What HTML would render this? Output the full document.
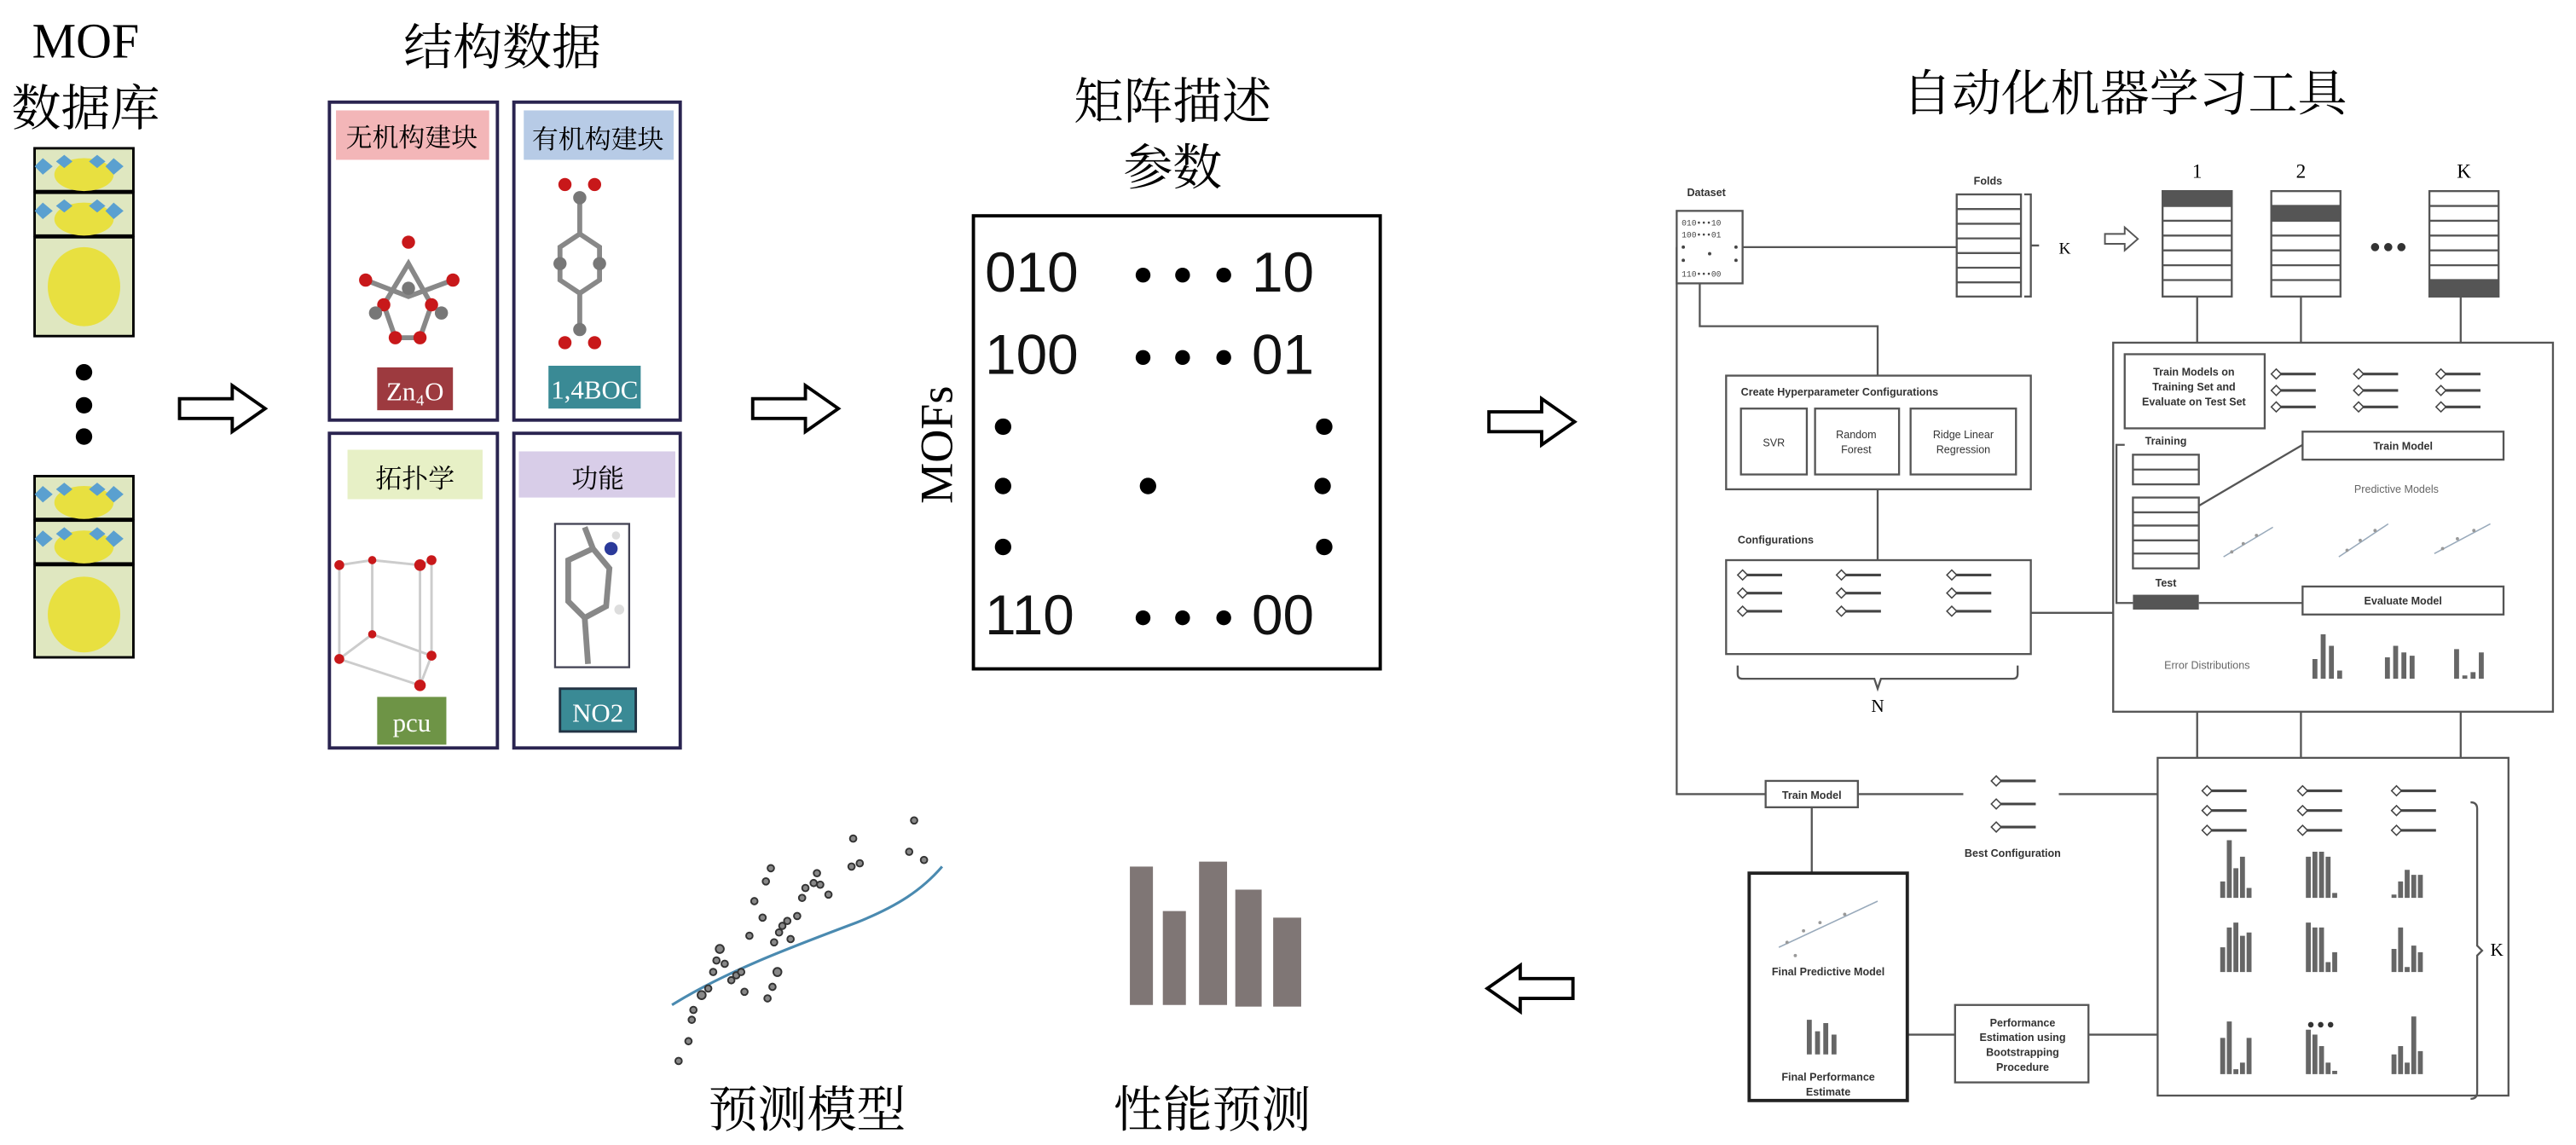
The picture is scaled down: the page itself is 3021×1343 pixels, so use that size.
<!DOCTYPE html>
<html><head><meta charset="utf-8"><style>
html,body{margin:0;padding:0;background:#fff}
svg{display:block}
.cn{font-family:"Liberation Serif","Noto Serif CJK SC",serif}
.s{font-family:"Liberation Sans",sans-serif;font-weight:bold;fill:#333}
</style></head><body>
<svg width="3021" height="1343" viewBox="0 0 1564 695" preserveAspectRatio="none" xmlns="http://www.w3.org/2000/svg">
<defs>
<g id="sl"><line x1="0" y1="0" x2="24" y2="0" stroke="#444" stroke-width="1.6"/><path d="M-3 0 L0 -3 L3 0 L0 3Z" fill="#fff" stroke="#444" stroke-width="0.8"/></g>
<g id="tile"><rect x="0" y="0" width="60" height="26" fill="#dfe7c0" stroke="#000" stroke-width="1.5"/><ellipse cx="30" cy="16" rx="18" ry="10" fill="#e8e040"/><g fill="#5aa0d0"><path d="M5 6l6 5-6 5-5-5z"/><path d="M48 6l6 5-6 5-5-5z"/><path d="M18 4l5 4-5 4-5-4z"/><path d="M38 4l5 4-5 4-5-4z"/></g></g>
<g id="arr"><path d="M0 -6 L32 -6 L32 -14 L52 0 L32 14 L32 6 L0 6Z" fill="#fff" stroke="#000" stroke-width="2"/></g>
</defs>

<text x="52" y="35" class="cn" font-size="30" text-anchor="middle">MOF</text>
<text x="52" y="76" class="cn" font-size="30" text-anchor="middle">数据库</text>
<g transform="translate(21,90)"><use href="#tile"/><use href="#tile" y="27"/><rect x="0" y="54" width="60" height="60" fill="#dfe7c0" stroke="#000" stroke-width="1.5"/><ellipse cx="30" cy="84" rx="22" ry="24" fill="#e8e040"/></g>
<circle cx="51" cy="226" r="5"/><circle cx="51" cy="246" r="5"/><circle cx="51" cy="265" r="5"/>
<g transform="translate(21,289)"><use href="#tile"/><use href="#tile" y="27"/><rect x="0" y="54" width="60" height="56" fill="#dfe7c0" stroke="#000" stroke-width="1.5"/><ellipse cx="30" cy="84" rx="22" ry="23" fill="#e8e040"/></g>
<use href="#arr" x="109" y="248"/>

<text x="305" y="39" class="cn" font-size="30" text-anchor="middle">结构数据</text>
<g fill="none" stroke="#2a2450" stroke-width="2">
<rect x="200" y="62" width="102" height="193"/><rect x="312" y="62" width="101" height="193"/>
<rect x="200" y="263" width="102" height="191"/><rect x="312" y="263" width="101" height="191"/>
</g>
<rect x="204" y="67" width="93" height="30" fill="#f3b6b8"/><text x="250" y="89" class="cn" font-size="16" text-anchor="middle">无机构建块</text>
<rect x="318" y="67" width="91" height="30" fill="#b7cbe6"/><text x="363" y="90" class="cn" font-size="16" text-anchor="middle">有机构建块</text>
<rect x="211" y="273" width="82" height="30" fill="#e7f0c6"/><text x="252" y="296" class="cn" font-size="16" text-anchor="middle">拓扑学</text>
<rect x="315" y="274" width="95" height="28" fill="#d8cde8"/><text x="363" y="296" class="cn" font-size="16" text-anchor="middle">功能</text>
<rect x="229" y="223" width="46" height="26" fill="#9d3a3f"/><text x="252" y="243" class="cn" font-size="16" fill="#fff" text-anchor="middle">Zn₄O</text>
<rect x="333" y="222" width="56" height="26" fill="#3a8a95"/><text x="361" y="242" class="cn" font-size="16" fill="#fff" text-anchor="middle">1,4BOC</text>
<rect x="229" y="423" width="42" height="29" fill="#6e9446"/><text x="250" y="444" class="cn" font-size="16" fill="#fff" text-anchor="middle">pcu</text>
<rect x="340" y="418" width="46" height="26" fill="#3a8a95" stroke="#234" stroke-width="1.5"/><text x="363" y="438" class="cn" font-size="16" fill="#fff" text-anchor="middle">NO2</text>
<g stroke="#888" stroke-width="3" fill="none"><path d="M233 185 L248 160 L262 185 L255 205 L240 205Z"/><path d="M222 170 L248 180 L275 170"/><path d="M340 150 L340 170 L352 178 L364 170 L364 150 L352 142 Z"/><path d="M352 142 L352 120 M352 178 L352 200"/></g>
<g fill="#c8181a"><circle cx="248" cy="147" r="4"/><circle cx="233" cy="185" r="4"/><circle cx="262" cy="185" r="4"/><circle cx="240" cy="205" r="4"/><circle cx="255" cy="205" r="4"/><circle cx="222" cy="170" r="4"/><circle cx="275" cy="170" r="4"/><circle cx="343" cy="112" r="4"/><circle cx="361" cy="112" r="4"/><circle cx="343" cy="208" r="4"/><circle cx="361" cy="208" r="4"/></g>
<g fill="#777"><circle cx="248" cy="175" r="4"/><circle cx="228" cy="190" r="4"/><circle cx="268" cy="190" r="4"/><circle cx="340" cy="160" r="4"/><circle cx="364" cy="160" r="4"/><circle cx="352" cy="120" r="4"/><circle cx="352" cy="200" r="4"/></g>
<g stroke="#ccc" stroke-width="1.5" fill="none"><path d="M206 343 L226 340 L255 343 L262 340 M206 343 L206 400 L255 416 L262 398 L262 340 M255 343 L255 416 M226 340 L226 385 L206 400 M226 385 L262 398"/></g>
<g fill="#c8181a"><circle cx="206" cy="343" r="3"/><circle cx="226" cy="340" r="2.5"/><circle cx="255" cy="343" r="3.5"/><circle cx="262" cy="340" r="3"/><circle cx="206" cy="400" r="3"/><circle cx="255" cy="416" r="3.5"/><circle cx="262" cy="398" r="3"/><circle cx="226" cy="385" r="2.5"/></g>
<rect x="337" y="318" width="45" height="87" fill="#fff" stroke="#445" stroke-width="1.2"/>
<g stroke="#888" stroke-width="3.5" fill="none"><path d="M345 340 L360 333 L370 345 L368 368 L355 375 L345 365Z"/><path d="M360 333 L355 320 M355 375 L357 403"/></g>
<circle cx="371" cy="333" r="4" fill="#2b3a9a"/><circle cx="374" cy="325" r="2.5" fill="#ddd"/><circle cx="376" cy="370" r="3" fill="#ddd"/>

<use href="#arr" x="457" y="248"/>

<text x="712" y="72" class="cn" font-size="30" text-anchor="middle">矩阵描述</text>
<text x="712" y="112" class="cn" font-size="30" text-anchor="middle">参数</text>
<text transform="translate(578,270) rotate(-90)" class="cn" font-size="28" text-anchor="middle">MOFs</text>
<rect x="591" y="131" width="247" height="275" fill="#fff" stroke="#000" stroke-width="2"/>
<g font-family="Liberation Sans,sans-serif" font-size="34" fill="#111">
<text x="598" y="177">010</text><text x="760" y="177">10</text>
<text x="598" y="227">100</text><text x="760" y="227">01</text>
<text x="598" y="385">110</text><text x="760" y="385">00</text></g>
<g fill="#000"><circle cx="694" cy="167" r="4.5"/><circle cx="718" cy="167" r="4.5"/><circle cx="743" cy="167" r="4.5"/>
<circle cx="694" cy="217" r="4.5"/><circle cx="718" cy="217" r="4.5"/><circle cx="743" cy="217" r="4.5"/>
<circle cx="694" cy="375" r="4.5"/><circle cx="718" cy="375" r="4.5"/><circle cx="743" cy="375" r="4.5"/>
<circle cx="609" cy="259" r="5"/><circle cx="609" cy="295" r="5"/><circle cx="609" cy="332" r="5"/>
<circle cx="804" cy="259" r="5"/><circle cx="803" cy="295" r="5"/><circle cx="804" cy="332" r="5"/><circle cx="697" cy="295" r="5"/></g>

<use href="#arr" x="904" y="256"/>
<g transform="translate(955,600) scale(-1,1)"><use href="#arr"/></g>

<text x="1290" y="67" class="cn" font-size="30" text-anchor="middle">自动化机器学习工具</text>
<g fill="none" stroke="#555" stroke-width="1.2">
<rect x="1018" y="128" width="40" height="44"/>
<rect x="1188" y="118" width="39" height="62"/>
<path d="M1188 126.9h39M1188 135.8h39M1188 144.7h39M1188 153.6h39M1188 162.5h39M1188 171.4h39"/>
<path d="M1229 118 h4 v62 h-4 M1233 149 h5"/>
<rect x="1313" y="116" width="42" height="64"/><rect x="1379" y="116" width="42" height="64"/><rect x="1475" y="116" width="42" height="64"/>
<path d="M1313 125h42M1313 134h42M1313 143h42M1313 152h42M1313 161h42M1313 170h42"/>
<path d="M1379 125h42M1379 134h42M1379 143h42M1379 152h42M1379 161h42M1379 170h42"/>
<path d="M1475 125h42M1475 134h42M1475 143h42M1475 152h42M1475 161h42M1475 170h42"/>
<path d="M1058 150 H1188 M1032 172 V198 H1140 V228 M1140 297 V340 M1233 372 H1283 M1018 150 V482 H1072"/>
<path d="M1334 180 V208 M1397 180 V208 M1494 180 V208"/>
<rect x="1283" y="208" width="267" height="224"/>
<rect x="1048" y="228" width="185" height="69"/><rect x="1057" y="248" width="40" height="40"/><rect x="1102" y="248" width="51" height="40"/><rect x="1160" y="248" width="64" height="40"/>
<rect x="1048" y="340" width="185" height="57"/>
<path d="M1055 404 v5 q0 3 3 3 h80 l2 6 l2 -6 h80 q3 0 3 -3 v-5"/>
<rect x="1290" y="215" width="85" height="45"/>
<rect x="1398" y="262" width="122" height="17"/><rect x="1398" y="356" width="122" height="17"/>
<rect x="1295" y="276" width="40" height="18"/><path d="M1295 285h40"/>
<rect x="1295" y="302" width="40" height="43"/><path d="M1295 311h40M1295 319h40M1295 328h40M1295 336h40"/>
<path d="M1335 307 L1398 270 M1335 366 H1398 M1290 270 H1285 V366 H1295"/>
<path d="M1334 432 V460 M1397 432 V460 M1494 432 V460"/>
<rect x="1310" y="460" width="213" height="205"/>
<path d="M1500 487 q4 0 4 4 v83 l3 3 l-3 3 v83 q0 4 -4 4"/>
<rect x="1072" y="474" width="56" height="16"/>
<path d="M1128 482 H1192 M1250 482 H1310 M1100 490 V530 M1158 628 H1187 M1268 628 H1310"/>
<rect x="1187" y="610" width="81" height="47"/>
</g>
<rect x="1062" y="530" width="96" height="138" fill="none" stroke="#222" stroke-width="2"/>
<g fill="#555"><rect x="1313" y="116" width="42" height="9"/><rect x="1379" y="125" width="42" height="9"/><rect x="1475" y="170" width="42" height="10"/><rect x="1295" y="361" width="40" height="9"/></g>
<g font-family="Liberation Mono,monospace" font-size="5" fill="#444"><text x="1021" y="137">010•••10</text><text x="1021" y="144">100•••01</text><text x="1021" y="168">110•••00</text></g>
<g fill="#444"><circle cx="1022" cy="150" r="1"/><circle cx="1022" cy="158" r="1"/><circle cx="1054" cy="150" r="1"/><circle cx="1054" cy="158" r="1"/><circle cx="1038" cy="154" r="1"/></g>
<text x="1250" y="154" class="cn" font-size="10">K</text>
<path d="M1278 142 h12 v-4 l8 7 l-8 7 v-4 h-12z" fill="#fff" stroke="#555"/>
<g class="cn" font-size="12" text-anchor="middle"><text x="1334" y="108">1</text><text x="1397" y="108">2</text><text x="1496" y="108">K</text></g>
<g fill="#333"><circle cx="1442" cy="150" r="2.5"/><circle cx="1450" cy="150" r="2.5"/><circle cx="1458" cy="150" r="2.5"/><circle cx="1403" cy="622" r="1.7"/><circle cx="1409" cy="622" r="1.7"/><circle cx="1415" cy="622" r="1.7"/></g>
<g class="s" font-size="6.5" text-anchor="middle">
<text x="1036" y="119">Dataset</text><text x="1207" y="112">Folds</text>
<text x="1057" y="240" text-anchor="start">Create Hyperparameter Configurations</text>
<text x="1077" y="271" font-weight="normal">SVR</text>
<text x="1127" y="266" font-weight="normal">Random</text><text x="1127" y="275" font-weight="normal">Forest</text>
<text x="1192" y="266" font-weight="normal">Ridge Linear</text><text x="1192" y="275" font-weight="normal">Regression</text>
<text x="1055" y="330" text-anchor="start">Configurations</text>
<text x="1332" y="228">Train Models on</text><text x="1332" y="237">Training Set and</text><text x="1332" y="246">Evaluate on Test Set</text>
<text x="1459" y="273">Train Model</text><text x="1459" y="367">Evaluate Model</text>
<text x="1315" y="270">Training</text><text x="1315" y="356">Test</text>
<text x="1455" y="299" font-weight="normal" fill="#666">Predictive Models</text>
<text x="1340" y="406" font-weight="normal" fill="#666">Error Distributions</text>
<text x="1100" y="485">Train Model</text><text x="1222" y="520">Best Configuration</text>
<text x="1110" y="592">Final Predictive Model</text>
<text x="1110" y="656">Final Performance</text><text x="1110" y="665">Estimate</text>
<text x="1228" y="623">Performance</text><text x="1228" y="632">Estimation using</text><text x="1228" y="641">Bootstrapping</text><text x="1228" y="650">Procedure</text>
</g>
<text x="1140" y="432" class="cn" font-size="11" text-anchor="middle">N</text>
<text x="1512" y="580" class="cn" font-size="11">K</text>
<g>
<use href="#sl" x="1058" y="349"/><use href="#sl" x="1058" y="360"/><use href="#sl" x="1058" y="371"/>
<use href="#sl" x="1118" y="349"/><use href="#sl" x="1118" y="360"/><use href="#sl" x="1118" y="371"/>
<use href="#sl" x="1185" y="349"/><use href="#sl" x="1185" y="360"/><use href="#sl" x="1185" y="371"/>
<use href="#sl" x="1382" y="227"/><use href="#sl" x="1382" y="237"/><use href="#sl" x="1382" y="247"/>
<use href="#sl" x="1432" y="227"/><use href="#sl" x="1432" y="237"/><use href="#sl" x="1432" y="247"/>
<use href="#sl" x="1482" y="227"/><use href="#sl" x="1482" y="237"/><use href="#sl" x="1482" y="247"/>
<use href="#sl" x="1340" y="480"/><use href="#sl" x="1340" y="492"/><use href="#sl" x="1340" y="504"/>
<use href="#sl" x="1398" y="480"/><use href="#sl" x="1398" y="492"/><use href="#sl" x="1398" y="504"/>
<use href="#sl" x="1455" y="480"/><use href="#sl" x="1455" y="492"/><use href="#sl" x="1455" y="504"/>
<use href="#sl" x="1212" y="474"/><use href="#sl" x="1212" y="488"/><use href="#sl" x="1212" y="502"/>
</g>
<g fill="#666">
<path d="M1404 412v-12h3v12zM1409 412v-27h3v27zM1414 412v-20h3v20zM1419 412v-5h3v5z"/>
<path d="M1448 412v-13h3v13zM1453 412v-20h3v20zM1458 412v-16h3v16zM1463 412v-14h3v14z"/>
<path d="M1490 412v-18h3v18zM1495 412v-2h3v2zM1500 412v-4h3v4zM1505 412v-16h3v16z"/>
<path d="M1348 545v-10h3v10zM1352 545v-35h3v35zM1356 545v-18h3v18zM1360 545v-25h3v25zM1364 545v-6h3v6z"/>
<path d="M1400 545v-25h3v25zM1404 545v-28h3v28zM1408 545v-28h3v28zM1412 545v-25h3v25zM1416 545v-3h3v3z"/>
<path d="M1452 545v-2h3v2zM1456 545v-10h3v10zM1460 545v-17h3v17zM1464 545v-14h3v14zM1468 545v-14h3v14z"/>
<path d="M1348 590v-15h3v15zM1352 590v-27h3v27zM1356 590v-30h3v30zM1360 590v-22h3v22zM1364 590v-24h3v24z"/>
<path d="M1400 590v-30h3v30zM1404 590v-27h3v27zM1408 590v-27h3v27zM1412 590v-6h3v6zM1416 590v-12h3v12z"/>
<path d="M1452 590v-14h3v14zM1456 590v-27h3v27zM1460 590v-3h3v3zM1464 590v-16h3v16zM1468 590v-12h3v12z"/>
<path d="M1348 652v-22h3v22zM1352 652v-32h3v32zM1356 652v-3h3v3zM1360 652v-7h3v7zM1364 652v-22h3v22z"/>
<path d="M1400 652v-27h3v27zM1404 652v-24h3v24zM1408 652v-17h3v17zM1412 652v-7h3v7zM1416 652v-2h3v2z"/>
<path d="M1452 652v-12h3v12zM1456 652v-17h3v17zM1460 652v-7h3v7zM1464 652v-35h3v35zM1468 652v-14h3v14z"/>
<path d="M1097 640v-21h3v21zM1102 640v-14h3v14zM1107 640v-19h3v19zM1112 640v-12h3v12z"/>
</g>
<g stroke="#9ab" stroke-width="0.8" fill="none"><path d="M1350 338 L1380 320"/><path d="M1420 338 L1450 318"/><path d="M1478 336 L1512 318"/><path d="M1080 575 L1140 547"/></g>
<g fill="#999"><circle cx="1355" cy="335" r="1"/><circle cx="1362" cy="330" r="1"/><circle cx="1370" cy="325" r="1"/><circle cx="1425" cy="334" r="1"/><circle cx="1433" cy="328" r="1"/><circle cx="1442" cy="322" r="1"/><circle cx="1483" cy="333" r="1"/><circle cx="1492" cy="327" r="1"/><circle cx="1502" cy="322" r="1"/><circle cx="1085" cy="572" r="1"/><circle cx="1095" cy="565" r="1"/><circle cx="1105" cy="560" r="1"/><circle cx="1120" cy="555" r="1"/><circle cx="1090" cy="580" r="1"/></g>

<path d="M408 610 C440 590 480 575 520 560 C545 550 560 540 572 526" fill="none" stroke="#4a8ab0" stroke-width="1.6"/>
<g fill="#888" stroke="#333" stroke-width="1">
<circle cx="412" cy="644" r="2"/><circle cx="418" cy="632" r="2"/><circle cx="420" cy="619" r="2"/><circle cx="421" cy="613" r="2"/><circle cx="426" cy="604" r="2.5"/><circle cx="430" cy="600" r="2"/><circle cx="433" cy="590" r="2"/><circle cx="435" cy="583" r="2"/><circle cx="437" cy="576" r="2.5"/><circle cx="440" cy="585" r="2"/><circle cx="444" cy="595" r="2"/><circle cx="447" cy="592" r="2"/><circle cx="450" cy="590" r="2"/><circle cx="452" cy="602" r="2"/><circle cx="455" cy="568" r="2"/><circle cx="458" cy="547" r="2"/><circle cx="463" cy="557" r="2"/><circle cx="466" cy="606" r="2"/><circle cx="469" cy="599" r="2"/><circle cx="472" cy="590" r="2.5"/><circle cx="465" cy="535" r="2"/><circle cx="468" cy="527" r="2"/><circle cx="470" cy="572" r="2"/><circle cx="473" cy="566" r="2"/><circle cx="475" cy="562" r="2"/><circle cx="478" cy="559" r="2"/><circle cx="480" cy="570" r="2"/><circle cx="484" cy="556" r="2"/><circle cx="487" cy="545" r="2"/><circle cx="489" cy="539" r="2"/><circle cx="494" cy="536" r="2"/><circle cx="496" cy="530" r="2"/><circle cx="498" cy="537" r="2"/><circle cx="503" cy="543" r="2"/><circle cx="517" cy="526" r="2"/><circle cx="518" cy="509" r="2"/><circle cx="522" cy="524" r="2"/><circle cx="552" cy="517" r="2"/><circle cx="555" cy="498" r="2"/><circle cx="561" cy="522" r="2"/>
</g>
<g fill="#7f7675"><rect x="686" y="526" width="14" height="84"/><rect x="706" y="553" width="14" height="57"/><rect x="728" y="523" width="17" height="87"/><rect x="750" y="540" width="16" height="71"/><rect x="773" y="557" width="17" height="54"/></g>
<text x="490" y="684" class="cn" font-size="30" text-anchor="middle">预测模型</text>
<text x="736" y="684" class="cn" font-size="30" text-anchor="middle">性能预测</text>
</svg>
</body></html>
